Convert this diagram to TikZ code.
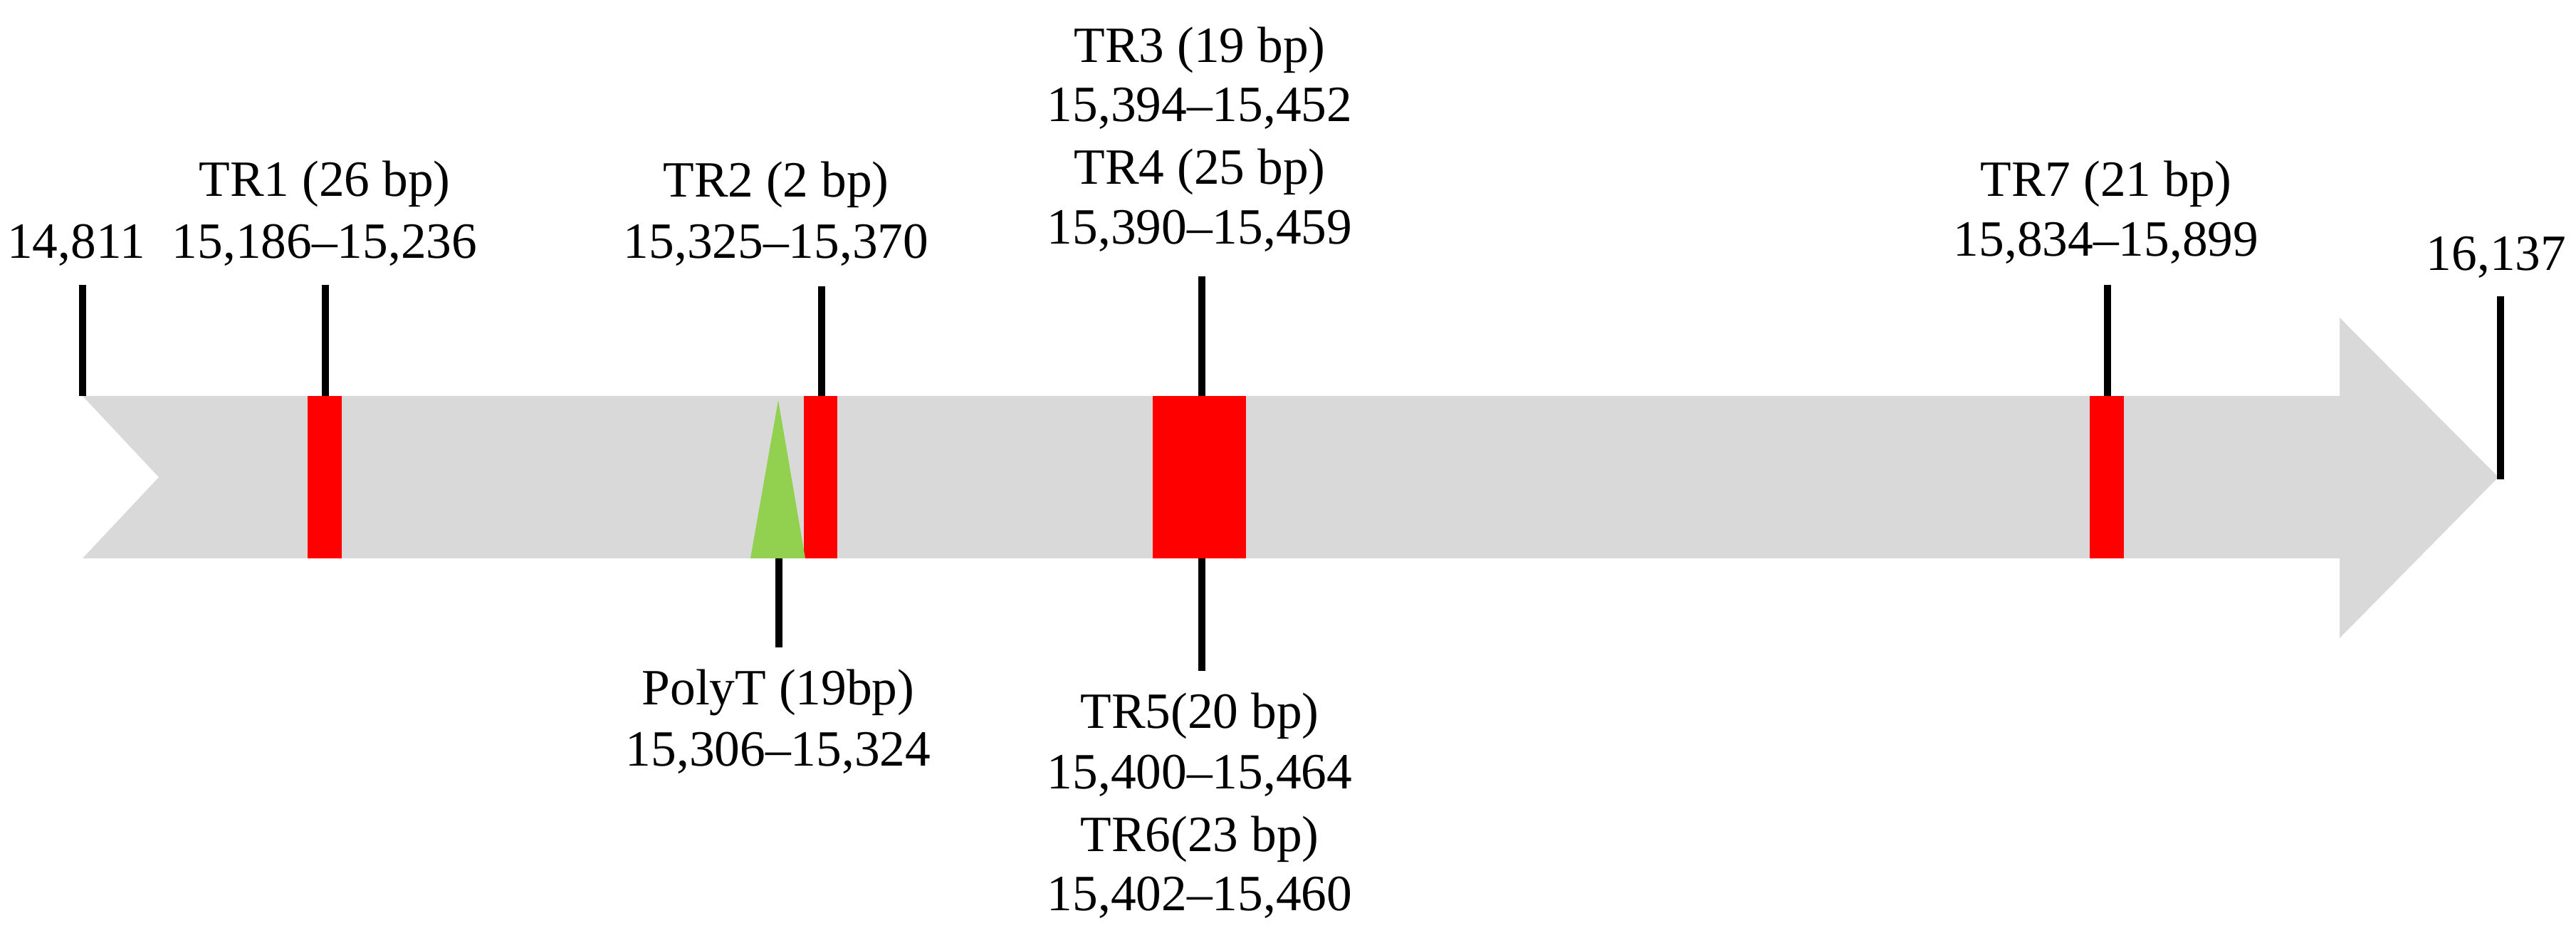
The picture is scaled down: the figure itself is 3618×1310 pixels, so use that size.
\documentclass[tikz,border=0pt]{standalone}
\usepackage{fontspec}
\setmainfont{Liberation Serif}
\definecolor{bodygray}{RGB}{217,217,217}
\definecolor{polygreen}{RGB}{146,208,80}
\begin{document}
\begin{tikzpicture}[x=0.01cm,y=-0.01cm,
  lbl/.style={anchor=base, inner sep=0pt, font=\fontsize{20.3}{24}\selectfont},
  tickline/.style={line width=2.6pt, black},
  trbox/.style={fill=red, draw=none},
  polytri/.style={fill=polygreen, draw=none},
  body/.style={fill=bodygray, draw=none}]
\useasboundingbox (0,0) rectangle (3618,1310);
% gene arrow
\fill[body] (116,556) -- (3286,556) -- (3286,446) -- (3509,670) -- (3286,896)
  -- (3286,784) -- (116,784) -- (223,670) -- cycle;
% repeats
\fill[trbox] (432,556) rectangle (480,784);
\fill[trbox] (1129,556) rectangle (1176,784);
\fill[trbox] (1619,556) rectangle (1750,784);
\fill[trbox] (2935,556) rectangle (2983,784);
\fill[polytri] (1054,784) -- (1131,784) -- (1093,562) -- cycle;
% tick ends
\coordinate (s0) at (116,400);   \coordinate (e0) at (116,556);
\coordinate (s1) at (457,400);   \coordinate (e1) at (457,556);
\coordinate (s2) at (1154,402);  \coordinate (e2) at (1154,556);
\coordinate (s3) at (1688,388);  \coordinate (e3) at (1688,556);
\coordinate (s5) at (1688,942);  \coordinate (e5) at (1688,784);
\coordinate (sp) at (1094,909);  \coordinate (ep) at (1094,784);
\coordinate (s7) at (2960,400);  \coordinate (e7) at (2960,556);
\coordinate (s9) at (3512,416);  \coordinate (e9) at (3512,673);
\foreach \a/\b in {s0/e0,s1/e1,s2/e2,s3/e3,s5/e5,sp/ep,s7/e7,s9/e9}
  \draw[tickline] (\a) -- (\b);
% labels
\node[lbl] (l0) at (107,363) {14,811};
\node[lbl] (l1a) at (456,276) {TR1 (26 bp)};
\node[lbl] (l1b) at (456,363) {15,186–15,236};
\node[lbl] (l2a) at (1090,277) {TR2 (2 bp)};
\node[lbl] (l2b) at (1090,363) {15,325–15,370};
\node[lbl] (l3a) at (1685,88) {TR3 (19 bp)};
\node[lbl] (l3b) at (1685,171) {15,394–15,452};
\node[lbl] (l4a) at (1685,259) {TR4 (25 bp)};
\node[lbl] (l4b) at (1685,343) {15,390–15,459};
\node[lbl] (l7a) at (2958,276) {TR7 (21 bp)};
\node[lbl] (l7b) at (2958,360) {15,834–15,899};
\node[lbl] (l9) at (3506,380) {16,137};
\node[lbl] (lpa) at (1093,989) {PolyT (19bp)};
\node[lbl] (lpb) at (1093,1075) {15,306–15,324};
\node[lbl] (l5a) at (1685,1023) {TR5(20 bp)};
\node[lbl] (l5b) at (1685,1107) {15,400–15,464};
\node[lbl] (l6a) at (1685,1195) {TR6(23 bp)};
\node[lbl] (l6b) at (1685,1278) {15,402–15,460};
\end{tikzpicture}
\end{document}
